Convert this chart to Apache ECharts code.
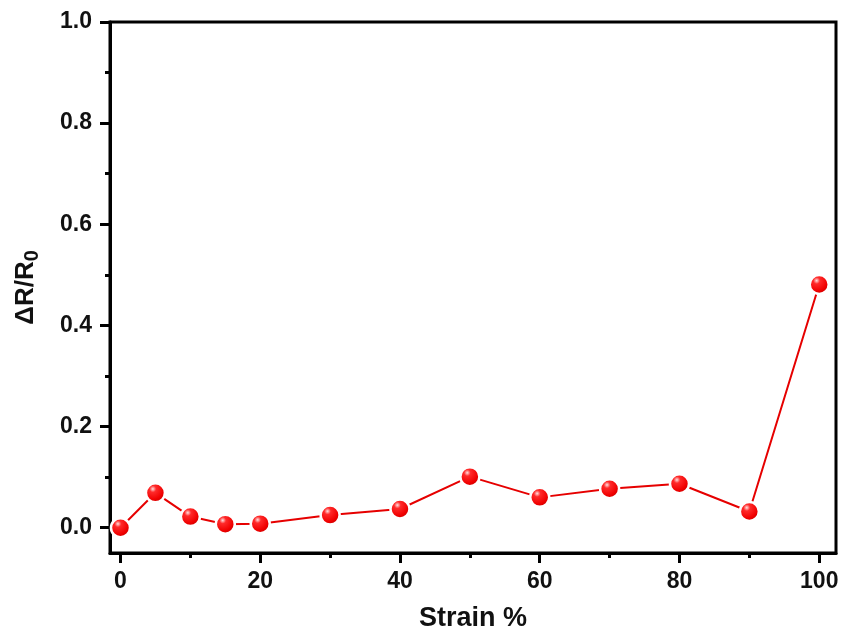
<!DOCTYPE html>
<html>
<head>
<meta charset="utf-8">
<script src="https://cdn.jsdelivr.net/npm/echarts@6/dist/echarts.min.js"></script>
<style>
  html, body { margin: 0; padding: 0; background: #fff; }
  #chart { width: 843px; height: 631px; }
</style>
</head>
<body>
<div id="chart"></div>
<script>
// data
var strain = [0, 5, 10, 15, 20, 30, 40, 50, 60, 70, 80, 90, 100];
var deltaR = [0.0, 0.069, 0.022, 0.007, 0.008, 0.025, 0.037, 0.101, 0.06, 0.077, 0.087, 0.032, 0.481];

var xMajor = [0, 20, 40, 60, 80, 100];
var xMinor = [10, 30, 50, 70, 90];
var yMajor = [0, 0.2, 0.4, 0.6, 0.8, 1.0];
var yMinor = [0.1, 0.3, 0.5, 0.7, 0.9];

var myChart = echarts.init(document.getElementById("chart"));

var font = "Liberation Sans, Arial, sans-serif";

var points = strain.map(function (s, i) { return [s, deltaR[i]]; });

var option = {
  backgroundColor: "#fff",
  animation: false,
  grid: {
    left: 110, right: 7, top: 22, bottom: 78,
    show: true, borderColor: "#000", borderWidth: 3,
    containLabel: false,
    outerBoundsMode: "none"
  },
  xAxis: [
    {
      type: "value", min: -1.5, max: 102.4,
      splitLine: { show: false },
      axisLine: { onZero: false, lineStyle: { color: "#000", width: 3 } },
      axisTick: { show: true, customValues: xMajor, length: 10, lineStyle: { width: 3, color: "#000" } },
      axisLabel: {
        customValues: xMajor, margin: 17,
        color: "#111", fontSize: 23, fontWeight: "bold", fontFamily: font
      },
      name: "Strain %", nameLocation: "middle", nameGap: 52,
      nameTextStyle: { color: "#111", fontSize: 27, fontWeight: "bold", fontFamily: font }
    },
    {
      // minor ticks
      type: "value", min: -1.5, max: 102.4, position: "bottom",
      splitLine: { show: false },
      axisLine: { show: false, onZero: false },
      axisTick: { show: true, customValues: xMinor, length: 5, lineStyle: { width: 3, color: "#000" } },
      axisLabel: { show: false }
    }
  ],
  yAxis: [
    {
      type: "value", min: -0.05, max: 1.0,
      splitLine: { show: false },
      axisLine: { onZero: false, lineStyle: { color: "#000", width: 3 } },
      axisTick: { show: true, customValues: yMajor, length: 10, lineStyle: { width: 3, color: "#000" } },
      axisLabel: {
        customValues: yMajor, margin: 18,
        color: "#111", fontSize: 23, fontWeight: "bold", fontFamily: font,
        formatter: function (v) { return v.toFixed(1); }
      },
      name: "ΔR/R{sub|0}", nameLocation: "middle", nameGap: 68, nameRotate: 90,
      nameTextStyle: {
        color: "#111", fontSize: 26, fontWeight: "bold", fontFamily: font,
        rich: {
          sub: { fontSize: 20, fontWeight: "bold", fontFamily: font, color: "#111", verticalAlign: "bottom", padding: [12, 0, 0, 0] }
        }
      }
    },
    {
      type: "value", min: -0.05, max: 1.0, position: "left",
      splitLine: { show: false },
      axisLine: { show: false, onZero: false },
      axisTick: { show: true, customValues: yMinor, length: 5, lineStyle: { width: 3, color: "#000" } },
      axisLabel: { show: false }
    }
  ],
  series: [
    {
      type: "line",
      data: points,
      symbol: "circle",
      symbolSize: 19,
      lineStyle: { color: "#e60000", width: 2 },
      itemStyle: {
        color: {
          type: "radial", x: 0.38, y: 0.32, r: 0.7,
          colorStops: [
            { offset: 0, color: "#ffe0e0" },
            { offset: 0.22, color: "#ff2a2a" },
            { offset: 0.7, color: "#f00000" },
            { offset: 1, color: "#c00000" }
          ]
        },
        borderColor: "#fff",
        borderWidth: 2.5
      },
      z: 5
    }
  ]
};

myChart.setOption(option);
</script>
</body>
</html>
